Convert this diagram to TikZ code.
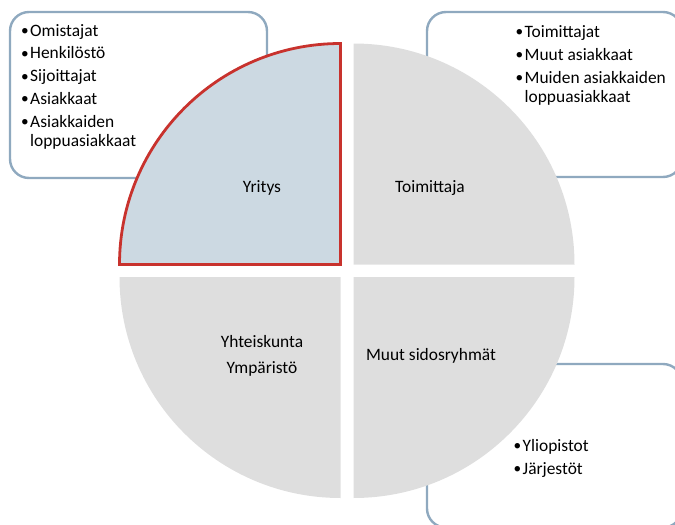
\documentclass[tikz,border=0pt]{standalone}
\usepackage{fontspec}
\setmainfont{Carlito}
\definecolor{boxline}{HTML}{8FA9BF}
\definecolor{quadgray}{HTML}{DEDEDE}
\definecolor{corpfill}{HTML}{CCD9E2}
\definecolor{corpline}{HTML}{C8322D}
\newcommand{\bitem}{\makebox[10pt][l]{\hspace*{0.8pt}\raisebox{0.6pt}{\scalebox{0.88}{•}}}}
\newcommand{\bcont}{\hspace*{10pt}}
\begin{document}
\begin{tikzpicture}[x=1pt,y=-1pt,
  listbox/.style={draw=boxline, line width=2.4pt, fill=white, rounded corners=19pt},
  quad/.style={fill=quadgray},
  corp/.style={fill=corpfill, draw=corpline, line width=2.8pt},
  txt/.style={inner sep=0pt, font=\fontsize{17.4}{19.5}\selectfont, text=black}
]
\useasboundingbox (0,0) rectangle (675,525);
\clip (0,0) rectangle (675,525);

% stakeholder lists behind the circle
\draw[listbox] (10,12) rectangle (267,178);
\draw[listbox] (427,12) rectangle (682,177);
\draw[listbox] (427,364) rectangle (682,527.5);

% four quarters of the circle
\fill[quad] (353.5,264.5) -- ++(0pt,221pt) arc[start angle=90, end angle=0, radius=221pt] -- cycle;
\fill[quad] (340.5,277) -- ++(-221pt,0pt) arc[start angle=180, end angle=270, radius=221pt] -- cycle;
\fill[quad] (353.5,277) -- ++(221pt,0pt) arc[start angle=0, end angle=-90, radius=221pt] -- cycle;
\draw[corp] (340.5,264.5) -- ++(-221pt,0pt) arc[start angle=180, end angle=90, radius=221pt] -- cycle;

% quarter labels
\node[txt, anchor=base] (yritys) at (262,192) {Yritys};
\node[txt, anchor=base] (toimittaja) at (430,192) {Toimittaja};
\node[txt, anchor=base] (yhteiskunta) at (262,347)
  {\begin{tabular}[t]{@{}c@{}}Yhteiskunta\\[6.5pt]Ympäristö\end{tabular}};
\node[txt, anchor=base] (muut) at (431,360) {Muut sidosryhmät};

% list contents
\node[txt, anchor=base west] (list1) at (20,36)
  {\begin{tabular}[t]{@{}l@{}}
   \bitem Omistajat\\[3.3pt]
   \bitem Henkilöstö\\[3.3pt]
   \bitem Sijoittajat\\[3.3pt]
   \bitem Asiakkaat\\[3.3pt]
   \bitem Asiakkaiden\\
   \bcont loppuasiakkaat
   \end{tabular}};
\node[txt, anchor=base west] (list2) at (514.5,37.5)
  {\begin{tabular}[t]{@{}l@{}}
   \bitem Toimittajat\\[3.3pt]
   \bitem Muut asiakkaat\\[3.3pt]
   \bitem Muiden asiakkaiden\\
   \bcont loppuasiakkaat
   \end{tabular}};
\node[txt, anchor=base west] (list3) at (512.5,451.5)
  {\begin{tabular}[t]{@{}l@{}}
   \bitem Yliopistot\\[3.3pt]
   \bitem Järjestöt
   \end{tabular}};
\end{tikzpicture}
\end{document}
